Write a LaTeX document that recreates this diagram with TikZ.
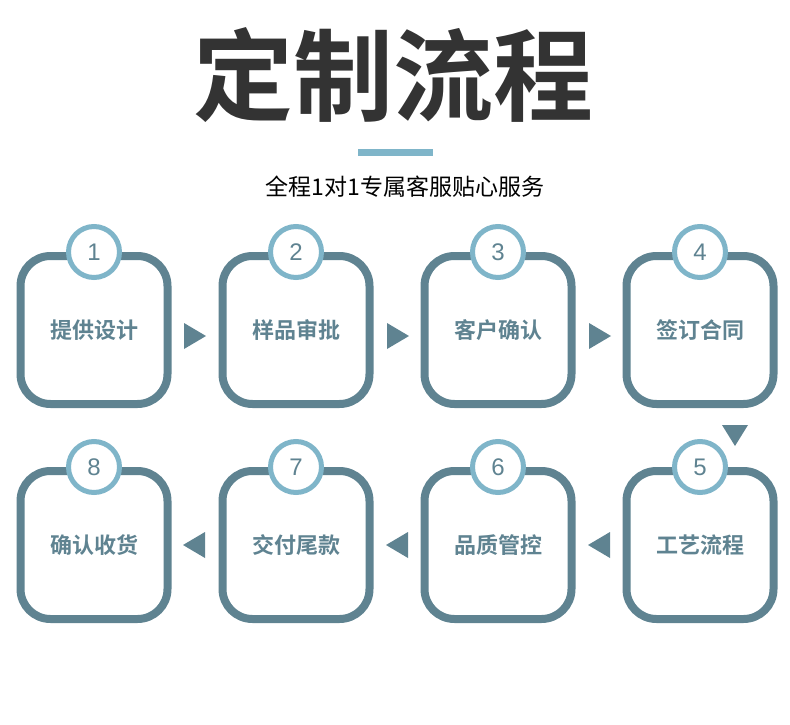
\documentclass[tikz,border=0pt]{standalone}
\usepackage{fontspec}
\newfontfamily\cjk{Noto Sans CJK SC}
\newfontfamily\cjkb{Noto Sans CJK SC Bold}
\setmainfont{Liberation Sans}
\definecolor{slate}{HTML}{5F8391}
\definecolor{lblue}{HTML}{7FB5C9}
\begin{document}
\begin{tikzpicture}[x=1pt,y=-1pt,
  box/.style={draw=slate,line width=8pt,rounded corners=30pt,minimum width=147pt,minimum height=148pt,fill=white,font=\cjkb\fontsize{22}{22}\selectfont,text=slate},
  num/.style={circle,draw=lblue,line width=5pt,fill=white,minimum size=51pt,inner sep=0pt,font=\fontsize{24}{24}\selectfont,text=slate},
  tri/.style={fill=slate}]
\useasboundingbox (0,0) rectangle (790,725);
\node[font=\cjkb\fontsize{100}{100}\selectfont,text={rgb,255:red,51;green,51;blue,51}] (title) at (393,75) {定制流程};
\fill[lblue] (358,149) rectangle (433,156);
\node[font=\cjk\fontsize{23}{23}\selectfont] (sub) at (405,187) {全程1对1专属客服贴心服务};
\foreach \i/\x/\y/\t in {1/94/330/提供设计,2/296/330/样品审批,3/498/330/客户确认,4/700/330/签订合同,5/700/545/工艺流程,6/498/545/品质管控,7/296/545/交付尾款,8/94/545/确认收货}{
  \node[box] (b\i) at (\x,\y) {\t};
  \node[num] (n\i) at (\x,\y-78) {\i};
}
\foreach \x in {184,387,589}{\fill[tri] (\x,323) -- (\x+22,336) -- (\x,349) -- cycle;}
\foreach \x in {205,408,610}{\fill[tri] (\x,532) -- (\x-22,545) -- (\x,558) -- cycle;}
\fill[tri] (722,425) -- (748,425) -- (735,446) -- cycle;
\end{tikzpicture}
\end{document}
